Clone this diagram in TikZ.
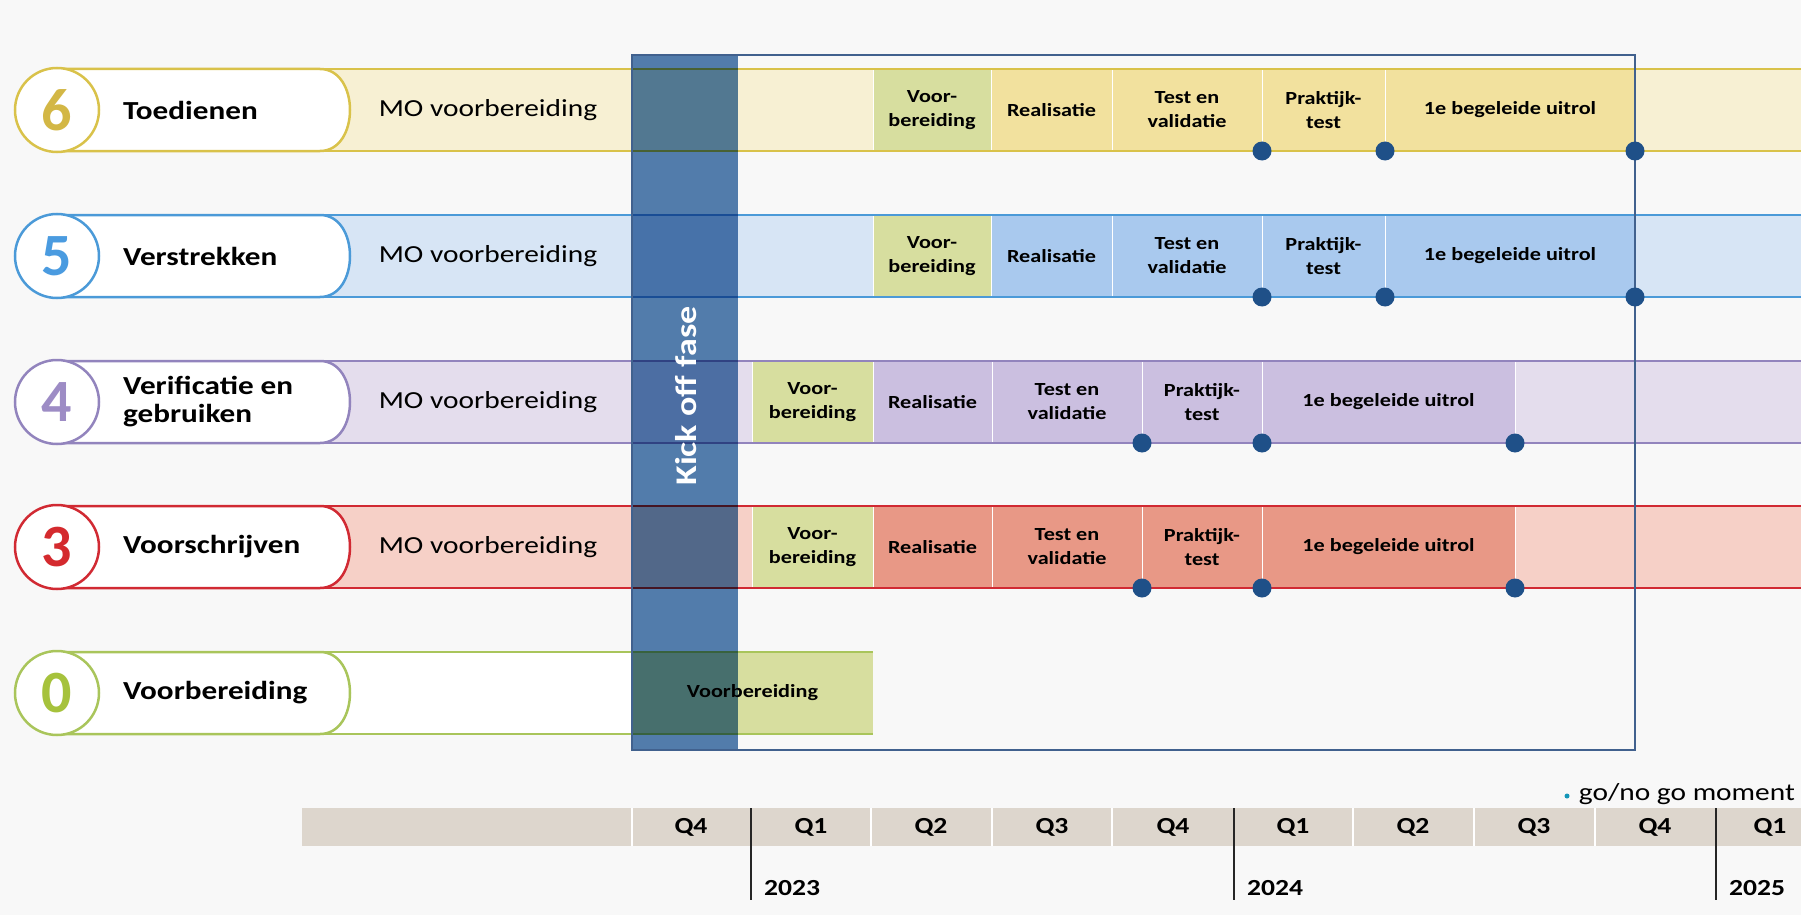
\documentclass[tikz,border=0pt]{standalone}
\usepackage{fontspec}
\setmainfont{Carlito}[FakeStretch=1.2]
\newfontfamily\numfont{Carlito}
\usepackage{tikz}
\usetikzlibrary{positioning}

\definecolor{pagebg}{HTML}{F8F8F8}
\definecolor{yelline}{HTML}{D9C24A}
\definecolor{yelnum}{HTML}{D3B745}
\definecolor{yellight}{HTML}{F7F0D3}
\definecolor{yelseg}{HTML}{F2E19E}
\definecolor{bluline}{HTML}{4B9AD8}
\definecolor{blunum}{HTML}{4A9BE0}
\definecolor{blulight}{HTML}{D7E5F5}
\definecolor{bluseg}{HTML}{A9C9EE}
\definecolor{purline}{HTML}{9284BD}
\definecolor{purnum}{HTML}{9D8CC5}
\definecolor{purlight}{HTML}{E4DDED}
\definecolor{purseg}{HTML}{CBBFE0}
\definecolor{redline}{HTML}{D12A33}
\definecolor{rednum}{HTML}{D42A2E}
\definecolor{redlight}{HTML}{F6D0C7}
\definecolor{redseg}{HTML}{E89886}
\definecolor{grnline}{HTML}{A9C55B}
\definecolor{grnnum}{HTML}{A6C23C}
\definecolor{prepseg}{HTML}{D7DE9F}
\definecolor{kickblue}{HTML}{5580B0}
\definecolor{frameblue}{HTML}{41618E}
\definecolor{dotblue}{HTML}{1F5088}
\definecolor{barbeige}{HTML}{DDD6CD}

\begin{document}
\begin{tikzpicture}[
    x=1pt, y=-1pt,
    every node/.style={inner sep=0pt},
    seg/.style={rectangle, draw=white, line width=0.8pt, minimum height=82pt, align=center, font=\fontsize{18.5}{24}\selectfont\bfseries},
    rowline/.style={line width=2.5pt},
    pill/.style={fill=white, line width=2.5pt},
    numcirc/.style={circle, fill=white, line width=2.5pt, minimum size=84pt, font=\numfont\fontsize{60}{60}\selectfont\bfseries},
    rowlabel/.style={anchor=west, align=left, font=\fontsize{26}{28}\selectfont\bfseries},
    molabel/.style={font=\fontsize{24.5}{28}\selectfont},
    gonode/.style={circle, fill=dotblue, minimum size=19pt},
    qlab/.style={font=\fontsize{23}{26}\selectfont\bfseries},
    ylab/.style={anchor=west, font=\fontsize{23}{26}\selectfont\bfseries},
    yearline/.style={line width=2.5pt, black!85}
]

\fill[pagebg] (0,0) rectangle (1801,915);
\useasboundingbox (0,0) rectangle (1801,915);

% Rij 6: Toedienen
\fill[yellight] (60,69) rectangle (1801,151);
\node[seg, fill=prepseg, minimum width=118] (vb6) at (932,110) {Voor-\\bereiding};
\node[seg, fill=yelseg, minimum width=121] (re6) at (1051.5,110) {Realisatie};
\node[seg, fill=yelseg, minimum width=150] (tv6) at (1187,110) {Test en\\validatie};
\node[seg, fill=yelseg, minimum width=123] (pt6) at (1323.5,110) {Praktijk-\\test};
\node[seg, fill=yelseg, minimum width=250] (ui6) at (1510,110) {1e begeleide uitrol};
\draw[rowline, yelline] (60,69) -- (1801,69) (60,151) -- (1801,151);
\draw[pill, draw=yelline] (57,69) -- (320,69) .. controls (360,69) and (360,151) .. (320,151) -- (57,151) -- cycle;
\node[numcirc, draw=yelline, text=yelnum] (n6) at (57,110) {6};
\node[rowlabel] (lab6) at (123,110) {Toedienen};
\node[molabel] (mo6) at (488,110) {MO voorbereiding};

% Rij 5: Verstrekken
\fill[blulight] (60,215) rectangle (1801,297);
\node[seg, fill=prepseg, minimum width=118] (vb5) at (932,256) {Voor-\\bereiding};
\node[seg, fill=bluseg, minimum width=121] (re5) at (1051.5,256) {Realisatie};
\node[seg, fill=bluseg, minimum width=150] (tv5) at (1187,256) {Test en\\validatie};
\node[seg, fill=bluseg, minimum width=123] (pt5) at (1323.5,256) {Praktijk-\\test};
\node[seg, fill=bluseg, minimum width=250] (ui5) at (1510,256) {1e begeleide uitrol};
\draw[rowline, bluline] (60,215) -- (1801,215) (60,297) -- (1801,297);
\draw[pill, draw=bluline] (57,215) -- (320,215) .. controls (360,215) and (360,297) .. (320,297) -- (57,297) -- cycle;
\node[numcirc, draw=bluline, text=blunum] (n5) at (57,256) {5};
\node[rowlabel] (lab5) at (123,256) {Verstrekken};
\node[molabel] (mo5) at (488,256) {MO voorbereiding};

% Rij 4: Verificatie en gebruiken
\fill[purlight] (60,361) rectangle (1801,443);
\node[seg, fill=prepseg, minimum width=121] (vb4) at (812.5,402) {Voor-\\bereiding};
\node[seg, fill=purseg, minimum width=119] (re4) at (932.5,402) {Realisatie};
\node[seg, fill=purseg, minimum width=150] (tv4) at (1067,402) {Test en\\validatie};
\node[seg, fill=purseg, minimum width=120] (pt4) at (1202,402) {Praktijk-\\test};
\node[seg, fill=purseg, minimum width=253] (ui4) at (1388.5,402) {1e begeleide uitrol};
\draw[rowline, purline] (60,361) -- (1801,361) (60,443) -- (1801,443);
\draw[pill, draw=purline] (57,361) -- (320,361) .. controls (360,361) and (360,443) .. (320,443) -- (57,443) -- cycle;
\node[numcirc, draw=purline, text=purnum] (n4) at (57,402) {4};
\node[rowlabel] (lab4) at (123,402) {Verificatie en\\gebruiken};
\node[molabel] (mo4) at (488,402) {MO voorbereiding};

% Rij 3: Voorschrijven
\fill[redlight] (60,506) rectangle (1801,588);
\node[seg, fill=prepseg, minimum width=121] (vb3) at (812.5,547) {Voor-\\bereiding};
\node[seg, fill=redseg, minimum width=119] (re3) at (932.5,547) {Realisatie};
\node[seg, fill=redseg, minimum width=150] (tv3) at (1067,547) {Test en\\validatie};
\node[seg, fill=redseg, minimum width=120] (pt3) at (1202,547) {Praktijk-\\test};
\node[seg, fill=redseg, minimum width=253] (ui3) at (1388.5,547) {1e begeleide uitrol};
\draw[rowline, redline] (60,506) -- (1801,506) (60,588) -- (1801,588);
\draw[pill, draw=redline] (57,506) -- (320,506) .. controls (360,506) and (360,588) .. (320,588) -- (57,588) -- cycle;
\node[numcirc, draw=redline, text=rednum] (n3) at (57,547) {3};
\node[rowlabel] (lab3) at (123,547) {Voorschrijven};
\node[molabel] (mo3) at (488,547) {MO voorbereiding};

% Rij 0: Voorbereiding
\fill[white] (60,652) rectangle (632,734);
\node[seg, fill=prepseg, draw=none, minimum width=241] (vb0) at (752.5,693) {Voorbereiding};
\draw[rowline, grnline] (60,652) -- (873,652) (60,734) -- (873,734);
\draw[pill, draw=grnline] (57,652) -- (320,652) .. controls (360,652) and (360,734) .. (320,734) -- (57,734) -- cycle;
\node[numcirc, draw=grnline, text=grnnum] (n0) at (57,693) {0};
\node[rowlabel] (lab0) at (123,693) {Voorbereiding};

% Kick off fase
\begin{scope}[blend mode=multiply]
\fill[kickblue] (632,55) rectangle (738,750);
\end{scope}
\node[rotate=90, text=white, font=\fontsize{30}{32}\selectfont\bfseries] (kick) at (686,396) {Kick off fase};
\draw[frameblue, line width=2pt] (632,55) rectangle (1635,750);

% go/no go momenten
\node[gonode] (g61) at (1262,151) {};
\node[gonode] (g62) at (1385,151) {};
\node[gonode] (g63) at (1635,151) {};
\node[gonode] (g51) at (1262,297) {};
\node[gonode] (g52) at (1385,297) {};
\node[gonode] (g53) at (1635,297) {};
\node[gonode] (g41) at (1142,443) {};
\node[gonode] (g42) at (1262,443) {};
\node[gonode] (g43) at (1515,443) {};
\node[gonode] (g31) at (1142,588) {};
\node[gonode] (g32) at (1262,588) {};
\node[gonode] (g33) at (1515,588) {};

% legenda
\node[circle, fill=dotblue!60!cyan, minimum size=5pt] (legdot) at (1567,796) {};
\node[right=9pt of legdot, anchor=base west, font=\fontsize{24.5}{27}\selectfont, yshift=-4pt] (legtxt) {go/no go moment};

% tijdlijn
\fill[barbeige] (302,808) rectangle (1801,846);
\draw[white, line width=1.5pt] (632,808) -- (632,846) (871,808) -- (871,846) (992,808) -- (992,846)
  (1112,808) -- (1112,846) (1353,808) -- (1353,846) (1474,808) -- (1474,846) (1595,808) -- (1595,846);
\draw[yearline] (751,808) -- (751,900) (1234,808) -- (1234,900) (1716,808) -- (1716,900);
\node[qlab] (q1) at (691,827) {Q4};
\node[qlab] (q2) at (811,827) {Q1};
\node[qlab] (q3) at (931,827) {Q2};
\node[qlab] (q4) at (1052,827) {Q3};
\node[qlab] (q5) at (1173,827) {Q4};
\node[qlab] (q6) at (1293,827) {Q1};
\node[qlab] (q7) at (1413,827) {Q2};
\node[qlab] (q8) at (1534,827) {Q3};
\node[qlab] (q9) at (1655,827) {Q4};
\node[qlab] (q10) at (1770,827) {Q1};
\node[ylab] (y23) at (764,888) {2023};
\node[ylab] (y24) at (1247,888) {2024};
\node[ylab] (y25) at (1729,888) {2025};

\end{tikzpicture}
\end{document}
